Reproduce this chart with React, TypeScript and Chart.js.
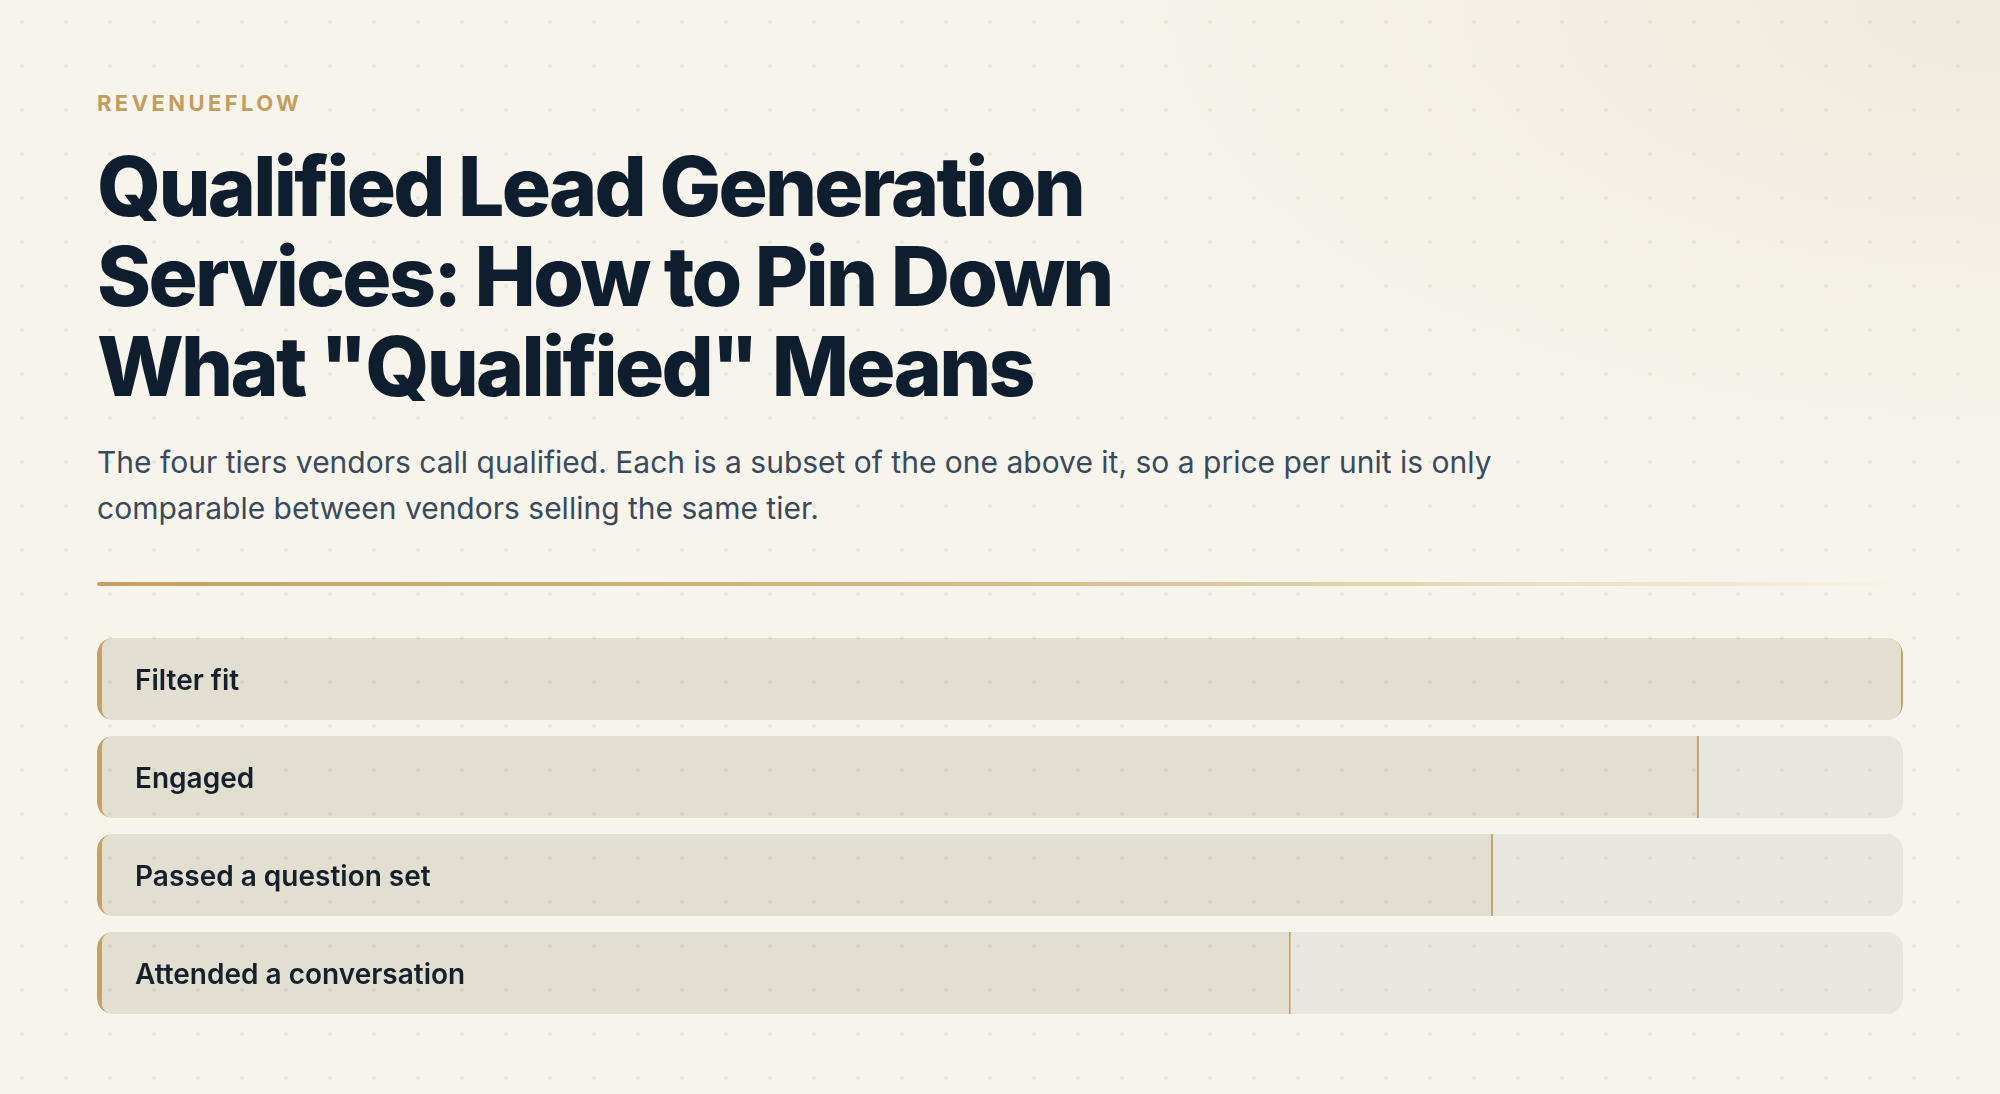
import React, { useEffect, useRef } from "react";
import { Chart, registerables } from "chart.js";

Chart.register(...registerables);

// tiers, top to bottom
const tiers = ["Filter fit", "Engaged", "Passed a question set", "Attended a conversation"];
// share of the top tier (percent)
const tierShare = [100, 88.7, 77.3, 66.1];
const trackShare = [100, 100, 100, 100];

const GOLD = "#c9a063";
const FILL = "#e3dfd0";
const TRACK = "#e8e7df";

const TierChart: React.FC = () => {
	const canvasRef = useRef<HTMLCanvasElement | null>(null);
	const chartRef = useRef<Chart<"bar"> | null>(null);

	useEffect(() => {
		if (!canvasRef.current) return;
		if (chartRef.current) chartRef.current.destroy();

		chartRef.current = new Chart(canvasRef.current, {
			type: "bar",
			data: {
				labels: tiers,
				datasets: [
					{
						label: "Share",
						data: tierShare,
						grouped: false,
						backgroundColor: FILL,
						borderColor: GOLD,
						borderSkipped: false,
						borderWidth: { left: 5, right: 2, top: 0, bottom: 0 },
						borderRadius: (ctx: any) =>
							tierShare[ctx.dataIndex] >= 100
								? 16
								: { topLeft: 16, bottomLeft: 16, topRight: 0, bottomRight: 0 },
						barPercentage: 0.837,
						categoryPercentage: 1,
					},
					{
						label: "Track",
						data: trackShare,
						grouped: false,
						backgroundColor: TRACK,
						borderWidth: 0,
						borderSkipped: false,
						borderRadius: 16,
						barPercentage: 0.837,
						categoryPercentage: 1,
					},
				],
			},
			options: {
				indexAxis: "y",
				animation: false,
				responsive: true,
				maintainAspectRatio: false,
				layout: { padding: 0 },
				plugins: {
					legend: { display: false },
					tooltip: { enabled: false },
				},
				scales: {
					x: {
						display: false,
						min: 0,
						max: 100,
					},
					y: {
						// labels sit inside the bars, so the axis takes no room
						afterFit: (scale: any) => {
							scale.width = 0;
							scale.paddingTop = 0;
							scale.paddingBottom = 0;
						},
						grid: { display: false },
						border: { display: false },
						ticks: {
							mirror: true,
							padding: 38,
							labelOffset: 3,
							z: 1,
							color: "#15202c",
							font: { family: "Inter", size: 28, weight: "600" },
						},
					},
				},
			},
		} as any);

		return () => {
			if (chartRef.current) {
				chartRef.current.destroy();
				chartRef.current = null;
			}
		};
	}, []);

	return <canvas ref={canvasRef} />;
};

export default function App() {
	return (
		<div
			style={{
				position: "absolute",
				left: 0,
				top: 0,
				width: 2000,
				height: 1094,
				overflow: "hidden",
				fontFamily: "Inter, sans-serif",
				background:
					"radial-gradient(ellipse 1400px 700px at 100% 0%, #efeadd 0%, rgba(247,244,236,0) 70%), #f7f4ec",
			}}
		>
			<div
				style={{
					position: "absolute",
					left: 97,
					top: 92,
					fontSize: 22,
					lineHeight: 1,
					fontWeight: 700,
					letterSpacing: "0.155em",
					color: "#c49d5e",
				}}
			>
				REVENUEFLOW
			</div>
			<div
				style={{
					position: "absolute",
					left: 97,
					top: 142,
					width: 1300,
					fontSize: 82,
					lineHeight: 1.1,
					fontWeight: 800,
					letterSpacing: "-0.033em",
					color: "#0f1e2e",
				}}
			>
				Qualified Lead Generation
				<br />
				Services: How to Pin Down
				<br />
				What "Qualified" Means
			</div>
			<div
				style={{
					position: "absolute",
					left: 97,
					top: 439,
					width: 1440,
					fontSize: 30,
					lineHeight: "46px",
					fontWeight: 400,
					color: "#3a4a5c",
				}}
			>
				The four tiers vendors call qualified. Each is a subset of the one above it, so a price per unit is only
				comparable between vendors selling the same tier.
			</div>
			<div
				style={{
					position: "absolute",
					left: 97,
					top: 582,
					width: 1806,
					height: 4,
					borderRadius: 2,
					background: "linear-gradient(90deg, #c9a062 0%, #d6b987 50%, rgba(232,216,184,0.6) 85%, rgba(247,244,236,0) 100%)",
				}}
			/>
			<div style={{ position: "absolute", left: 97, top: 630, width: 1806, height: 392 }}>
				<TierChart />
			</div>
			<div
				style={{
					position: "absolute",
					inset: 0,
					pointerEvents: "none",
					backgroundImage: "radial-gradient(circle at 22px 22px, rgba(60,50,30,0.06) 1.6px, rgba(0,0,0,0) 2.2px)",
					backgroundSize: "44px 44px",
				}}
			/>
		</div>
	);
}
